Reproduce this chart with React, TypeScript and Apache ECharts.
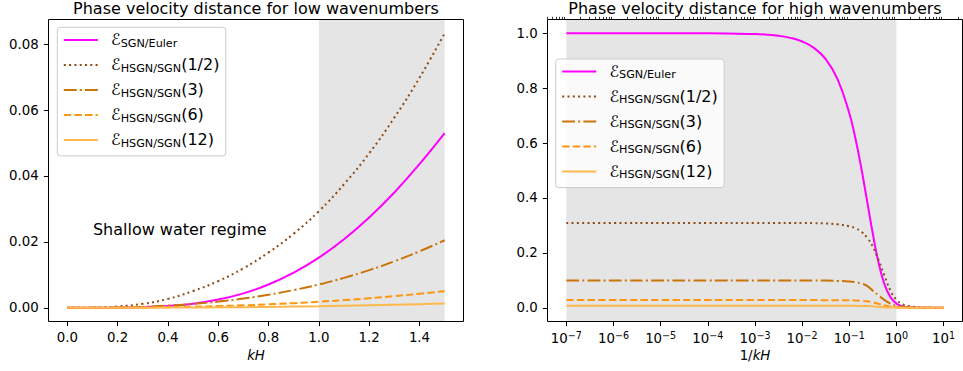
import React, { useEffect, useRef } from "react";
import * as echarts from "echarts";

const FONT = "DejaVu Sans";

// ---------- Left panel: low wavenumbers (x = kH) ----------
const kH = [0, 0.1, 0.2, 0.3, 0.4, 0.5, 0.6, 0.7, 0.8, 0.9, 1.0, 1.1, 1.2, 1.3, 1.4, 1.5];
const lowSgnEuler = [0, 0.0000022, 0.0000355, 0.000174, 0.000532, 0.00125, 0.00249, 0.00438, 0.00707, 0.01066, 0.01522, 0.0208, 0.0274, 0.035, 0.0436, 0.053];
const lowHalf = [0, 0.00006, 0.0004, 0.0012, 0.0027, 0.0051, 0.0081, 0.012, 0.0168, 0.0225, 0.0293, 0.0375, 0.0469, 0.0577, 0.0698, 0.0833];
const lowThree = [0, 0.000018, 0.00011, 0.00031, 0.00065, 0.00117, 0.00187, 0.0028, 0.00396, 0.00538, 0.00707, 0.00908, 0.01142, 0.0141, 0.01713, 0.0205];
const lowSix = [0, 0.000006, 0.000033, 0.00009, 0.000185, 0.000324, 0.000511, 0.000751, 0.00105, 0.00141, 0.00183, 0.00233, 0.00289, 0.00353, 0.00425, 0.00505];
const lowTwelve = [0, 0.0000015, 0.0000084, 0.000023, 0.000048, 0.000083, 0.000132, 0.000193, 0.00027, 0.000363, 0.000472, 0.000599, 0.000744, 0.000909, 0.001094, 0.0013];

// ---------- Right panel: high wavenumbers (x = 1/kH, log) ----------
const invKH = [1e-7, 1e-6, 1e-5, 1e-4, 1e-3, 0.001778, 0.003162, 0.005623, 0.01, 0.01778, 0.03162, 0.05623, 0.1, 0.1334, 0.1778, 0.2371, 0.3162, 0.4217, 0.5623, 0.7499, 1, 1.334, 1.778, 2.371, 3.162, 5.623, 10];
const highSgnEuler = [1.0, 0.999997, 0.99997, 0.9997, 0.997, 0.9947, 0.9905, 0.9831, 0.97, 0.9467, 0.9054, 0.8329, 0.7087, 0.6202, 0.5127, 0.391, 0.2676, 0.1605, 0.0834, 0.0378, 0.0152, 0.0056, 0.002, 0.00064, 0.00021, 0.00002, 0.000002];
const highHalf = [0.309, 0.309, 0.309, 0.309, 0.309, 0.309, 0.309, 0.3089, 0.3087, 0.3083, 0.307, 0.304, 0.297, 0.29, 0.278, 0.256, 0.222, 0.172, 0.115, 0.062, 0.0293, 0.0135, 0.0065, 0.003, 0.0015, 0.0004, 0.0001];
const highThree = [0.0995, 0.0995, 0.0995, 0.0995, 0.0995, 0.0995, 0.0995, 0.0995, 0.0995, 0.0994, 0.099, 0.0978, 0.0955, 0.093, 0.0885, 0.08, 0.062, 0.044, 0.028, 0.015, 0.0071, 0.0033, 0.0015, 0.0007, 0.00035, 0.0001, 0.00002];
const highSix = [0.028, 0.028, 0.028, 0.028, 0.028, 0.028, 0.028, 0.028, 0.028, 0.0279, 0.0278, 0.0276, 0.0272, 0.0266, 0.0255, 0.0234, 0.0196, 0.0142, 0.008, 0.004, 0.0018, 0.0008, 0.00038, 0.00018, 0.00009, 0.00002, 0.000005];
const highTwelve = [0.0073, 0.0073, 0.0073, 0.0073, 0.0073, 0.0073, 0.0073, 0.0073, 0.0073, 0.00729, 0.00727, 0.00722, 0.0071, 0.00695, 0.0067, 0.0062, 0.0052, 0.0038, 0.0021, 0.001, 0.00047, 0.00021, 0.0001, 0.000046, 0.000022, 0.000005, 0.000001];

// ---------- ticks / labels ----------
const lowXTicks = [0, 0.2, 0.4, 0.6, 0.8, 1.0, 1.2, 1.4];
const lowYTicks = [0, 0.02, 0.04, 0.06, 0.08];
const highXTicks = [1e-7, 1e-6, 1e-5, 1e-4, 1e-3, 1e-2, 1e-1, 1, 10];
const highYTicks = [0, 0.2, 0.4, 0.6, 0.8, 1.0];
const lowShade = [1.0, 1.5];
const highShade = [1e-7, 1];

const seriesNames = ["SGN/Euler", "HSGN/SGN(1/2)", "HSGN/SGN(3)", "HSGN/SGN(6)", "HSGN/SGN(12)"];
const legendSubs = ["SGN/Euler", "HSGN/SGN", "HSGN/SGN", "HSGN/SGN", "HSGN/SGN"];
const legendSuffix = ["", "(1/2)", "(3)", "(6)", "(12)"];

const titles = ["Phase velocity distance for low wavenumbers", "Phase velocity distance for high wavenumbers"];
const annotation = "Shallow water regime";

const LINE_STYLES: any[] = [
  { color: "#ff00ff", type: "solid" },
  { color: "#8c4a16", type: [2, 3.3] },
  { color: "#c97408", type: [12.8, 3.2, 2, 3.2] },
  { color: "#ff9610", type: [7.4, 3.2] },
  { color: "#ffb84d", type: "solid" },
];

const G0 = { left: 48.5, top: 19.5, width: 415, height: 302 };
const G1 = { left: 547.5, top: 19.5, width: 415, height: 302 };

function minorLogTicks(): number[] {
  const out: number[] = [];
  for (let e = -8; e <= 1; e++) {
    for (let m = 2; m <= 9; m++) {
      const v = m * Math.pow(10, e);
      if (v > Math.pow(10, -7.4) && v < Math.pow(10, 1.4)) out.push(v);
    }
  }
  return out;
}

const tickLabelStyle = { fontSize: 13.33, fontFamily: FONT, color: "#000" };
const noLine = { show: false, onZero: false };

function buildOption(): any {
  const lowData = [lowSgnEuler, lowHalf, lowThree, lowSix, lowTwelve];
  const highData = [highSgnEuler, highHalf, highThree, highSix, highTwelve];
  const series: any[] = [];
  series.push({
    type: "line", name: "shadeLow", xAxisIndex: 0, yAxisIndex: 0, data: [], z: 1, silent: true,
    markArea: { silent: true, itemStyle: { color: "#e5e5e5" }, data: [[{ xAxis: lowShade[0] }, { xAxis: lowShade[1] }]] },
  });
  series.push({
    type: "line", name: "shadeHigh", xAxisIndex: 1, yAxisIndex: 1, data: [], z: 1, silent: true,
    markArea: { silent: true, itemStyle: { color: "#e5e5e5" }, data: [[{ xAxis: highShade[0] }, { xAxis: highShade[1] }]] },
  });
  const mk = (i: number, xs: number[], ys: number[], xi: number, yi: number) => ({
    type: "line",
    name: seriesNames[i],
    xAxisIndex: xi,
    yAxisIndex: yi,
    data: xs.map((x, j) => [x, ys[j]]),
    symbol: "none",
    smooth: 0.45,
    silent: true,
    z: 2,
    lineStyle: { color: LINE_STYLES[i].color, width: 2, type: LINE_STYLES[i].type, cap: "butt" },
    itemStyle: { color: LINE_STYLES[i].color },
  });
  lowData.forEach((ys, i) => series.push(mk(i, kH, ys, 0, 0)));
  highData.forEach((ys, i) => series.push(mk(i, invKH, ys, 1, 1)));

  const legendRich = {
    sp: { width: 8.2, fontSize: 16, fontFamily: FONT, lineHeight: 17.6 },
    e: { fontSize: 16, fontFamily: FONT, color: "#000", lineHeight: 17.6 },
    s: { fontSize: 11.2, fontFamily: FONT, color: "#000", lineHeight: 9.3, verticalAlign: "bottom" },
    n: { fontSize: 16, fontFamily: FONT, color: "#000", lineHeight: 17.6 },
  };
  const legendFormatter = (name: string) => {
    const i = seriesNames.indexOf(name);
    return `{sp| }{e|\u2130}{s|${legendSubs[i]}}` + (legendSuffix[i] ? `{n|${legendSuffix[i]}}` : "");
  };
  const legendBase = {
    data: seriesNames,
    orient: "vertical",
    padding: [4.6, 6.4, 7.2, 5.5],
    itemGap: 8.2,
    itemWidth: 34,
    itemHeight: 17.6,
    backgroundColor: "rgba(255,255,255,0.8)",
    borderColor: "#cccccc",
    borderWidth: 1,
    borderRadius: 3,
    selectedMode: false,
    itemStyle: { opacity: 0, borderWidth: 0 },
    formatter: legendFormatter,
    textStyle: { width: 118, rich: legendRich, fontFamily: FONT, fontSize: 16 },
  };

  return {
    animation: false,
    grid: [
      { ...G0, show: false, containLabel: false },
      { ...G1, show: false, containLabel: false },
    ],
    legend: [
      { ...legendBase, left: 57.3, top: 27.3 },
      { ...legendBase, left: 555.7, top: 59 },
    ],
    xAxis: [
      {
        type: "value", gridIndex: 0, min: -0.075, max: 1.575,
        axisLine: noLine, splitLine: { show: false },
        axisTick: { show: true, customValues: lowXTicks, length: 4.67, lineStyle: { color: "#000", width: 1 } },
        axisLabel: { ...tickLabelStyle, customValues: lowXTicks, margin: 9.3, lineHeight: 13.33, formatter: (v: number) => v.toFixed(1) },
      },
      {
        type: "log", gridIndex: 1, logBase: 10, min: Math.pow(10, -7.4), max: Math.pow(10, 1.4),
        axisLine: noLine, splitLine: { show: false },
        axisTick: { show: true, customValues: highXTicks, length: 4.67, lineStyle: { color: "#000", width: 1 } },
        axisLabel: {
          customValues: highXTicks, margin: 8.7,
          formatter: (v: number) => {
            const e = Math.round(Math.log10(v));
            return `{b|10}{s|${e < 0 ? "\u2212" + -e : e}}`;
          },
          rich: {
            b: { fontSize: 13.33, fontFamily: FONT, color: "#000", lineHeight: 16 },
            s: { fontSize: 9.6, fontFamily: FONT, color: "#000", lineHeight: 9.6, verticalAlign: "top" },
          },
        },
      },
      {
        type: "log", gridIndex: 1, logBase: 10, min: Math.pow(10, -7.4), max: Math.pow(10, 1.4),
        axisLine: noLine, splitLine: { show: false }, axisLabel: { show: false },
        axisTick: { show: true, customValues: minorLogTicks(), length: 2.67, lineStyle: { color: "#000", width: 0.8 } },
      },
    ],
    yAxis: [
      {
        type: "value", gridIndex: 0, min: -0.0041667, max: 0.0875,
        axisLine: noLine, splitLine: { show: false },
        axisTick: { show: true, customValues: lowYTicks, length: 4.67, lineStyle: { color: "#000", width: 1 } },
        axisLabel: { ...tickLabelStyle, customValues: lowYTicks, margin: 9.8, formatter: (v: number) => v.toFixed(2) },
      },
      {
        type: "value", gridIndex: 1, min: -0.05, max: 1.05,
        axisLine: noLine, splitLine: { show: false },
        axisTick: { show: true, customValues: highYTicks, length: 4.67, lineStyle: { color: "#000", width: 1 } },
        axisLabel: { ...tickLabelStyle, customValues: highYTicks, margin: 9.8, formatter: (v: number) => v.toFixed(1) },
      },
    ],
    graphic: [
      { type: "rect", silent: true, z: 50, shape: { x: G0.left, y: G0.top, width: G0.width, height: G0.height }, style: { fill: "none", stroke: "#000", lineWidth: 1 } },
      { type: "rect", silent: true, z: 50, shape: { x: G1.left, y: G1.top, width: G1.width, height: G1.height }, style: { fill: "none", stroke: "#000", lineWidth: 1 } },
      { type: "text", silent: true, z: 50, x: G0.left + G0.width / 2, y: 8.2, style: { text: titles[0], fontSize: 16, fontFamily: FONT, fill: "#000", align: "center", verticalAlign: "middle" } },
      { type: "text", silent: true, z: 50, x: G1.left + G1.width / 2, y: 8.2, style: { text: titles[1], fontSize: 16, fontFamily: FONT, fill: "#000", align: "center", verticalAlign: "middle" } },
      { type: "text", silent: true, z: 50, x: 92.9, y: 229.2, style: { text: annotation, fontSize: 16, fontFamily: FONT, fill: "#000", align: "left", verticalAlign: "middle" } },
      {
        type: "text", silent: true, z: 50, x: G0.left + G0.width / 2, y: 355.4,
        style: { text: "{i|kH}", align: "center", verticalAlign: "middle", rich: { i: { fontSize: 13.33, fontFamily: FONT, fontStyle: "italic", fill: "#000" } } },
      },
      {
        type: "text", silent: true, z: 50, x: G1.left + G1.width / 2, y: 355.4,
        style: {
          text: "{n|1/}{i|kH}", align: "center", verticalAlign: "middle",
          rich: { n: { fontSize: 13.33, fontFamily: FONT, fill: "#000" }, i: { fontSize: 13.33, fontFamily: FONT, fontStyle: "italic", fill: "#000" } },
        },
      },
    ],
    series,
  };
}

export default function App() {
  const ref = useRef<HTMLDivElement>(null);
  useEffect(() => {
    if (!ref.current) return;
    const chart = echarts.init(ref.current, undefined, { renderer: "svg" });
    chart.setOption(buildOption());
    return () => chart.dispose();
  }, []);
  return <div ref={ref} style={{ position: "absolute", left: 0, top: 0, width: 963, height: 371, background: "#fff" }} />;
}
